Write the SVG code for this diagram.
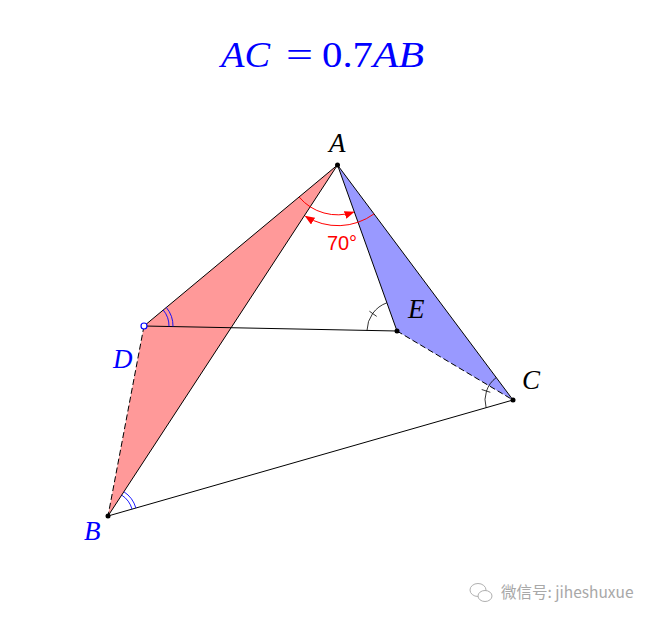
<svg xmlns="http://www.w3.org/2000/svg" width="659" height="621" viewBox="0 0 659 621">
<style>
.edge{stroke:#000;stroke-width:1;fill:none}
.dash{stroke-dasharray:6,3}
.lbl{font-family:"Liberation Serif",serif;font-style:italic;font-size:27px}
.ang{fill:none;stroke:#000;stroke-width:0.8}
.bang{fill:none;stroke:#0000ff;stroke-width:0.9}
.rang{fill:none;stroke:#ff0000;stroke-width:1}
.pt{fill:#000}
</style>
<defs>
<marker id="rarr" viewBox="0 0 10 8" refX="9" refY="4" markerWidth="10" markerHeight="8" markerUnits="userSpaceOnUse" orient="auto">
<path d="M0,0 L10,4 L0,8 z" fill="#ff0000"/>
</marker>
</defs>
<rect width="659" height="621" fill="#fff"/>

<g id="title" fill="#0000ff" font-family="Liberation Serif,serif" font-size="36">
<text x="221" y="67" font-style="italic" textLength="49" lengthAdjust="spacingAndGlyphs">AC</text>
<text x="286" y="67" textLength="27" lengthAdjust="spacingAndGlyphs">=</text>
<text x="322" y="67" textLength="51" lengthAdjust="spacingAndGlyphs">0.7</text>
<text x="373" y="67" font-style="italic" textLength="51" lengthAdjust="spacingAndGlyphs">AB</text>
</g>

<g id="triangles">
<polygon points="337.5,165 144,326 108,516" fill="#ff9999"/>
<polygon points="337.5,165 397,331 513,400" fill="#9999ff"/>
</g>

<g id="connectors">
<line class="edge" x1="337.5" y1="165" x2="144" y2="326"/>
<line class="edge" x1="337.5" y1="165" x2="108" y2="516"/>
<line class="edge dash" x1="144" y1="326" x2="108" y2="516"/>
<line class="edge" x1="337.5" y1="165" x2="397" y2="331"/>
<line class="edge" x1="337.5" y1="165" x2="513" y2="400"/>
<line class="edge dash" x1="397" y1="331" x2="513" y2="400"/>
<line class="edge" x1="108" y1="516" x2="513" y2="400"/>
<line class="edge" x1="144" y1="326" x2="397" y2="331"/>
</g>

<g id="angle-marks">
<path class="rang" d="M299.1,197.0 A50,50 0 0 0 353.6,212.1" marker-end="url(#rarr)"/>
<path class="rang" d="M374.0,213.9 A61,61 0 0 1 305.5,216.3" marker-end="url(#rarr)"/>
<text x="342" y="250" text-anchor="middle" fill="#ff0000" font-family="Liberation Sans,Arial,sans-serif" font-size="20">70°</text>
<path class="bang" d="M163.22,310.01 A25,25 0 0 1 169.0,326.49"/>
<path class="bang" d="M166.30,307.45 A29,29 0 0 1 173.0,326.57"/>
<path class="bang" d="M121.68,495.08 A25,25 0 0 1 132.03,509.12"/>
<path class="bang" d="M123.87,491.73 A29,29 0 0 1 135.88,508.02"/>
<path class="ang" d="M367.0,330.4 A30,30 0 0 1 386.9,302.8"/>
<line class="ang" x1="376.7" y1="316.4" x2="369.4" y2="311.2"/>
<path class="ang" d="M486.1,407.7 A28,28 0 0 1 496.2,377.6"/>
<line class="ang" x1="490.3" y1="392.3" x2="481.7" y2="389.5"/>
</g>

<g id="node-A">
<circle class="pt" cx="337.5" cy="165" r="2.5"/>
<text class="lbl" x="329" y="152">A</text>
</g>
<g id="node-B">
<circle class="pt" cx="108" cy="516" r="2.5"/>
<text class="lbl" x="84" y="540" fill="#0000ff">B</text>
</g>
<g id="node-C">
<circle class="pt" cx="513" cy="400" r="2.5"/>
<text class="lbl" x="522" y="389">C</text>
</g>
<g id="node-D">
<circle cx="144" cy="326" r="3" fill="#fff" stroke="#0000ff" stroke-width="1.2"/>
<text class="lbl" x="113" y="368" fill="#0000ff">D</text>
</g>
<g id="node-E">
<circle class="pt" cx="397" cy="331" r="2.5"/>
<text class="lbl" x="408" y="318">E</text>
</g>

<g id="watermark">
<g fill="none" stroke="#b0b0b0" stroke-width="1">
<ellipse cx="478" cy="590" rx="8" ry="6.5"/>
<ellipse cx="485" cy="596" rx="7" ry="5.5" fill="#fff"/>
</g>
<text x="501" y="598" fill="#a8a8a8" font-family="Noto Sans CJK SC,sans-serif" font-size="15.5">微信号: jiheshuxue</text>
</g>
</svg>
